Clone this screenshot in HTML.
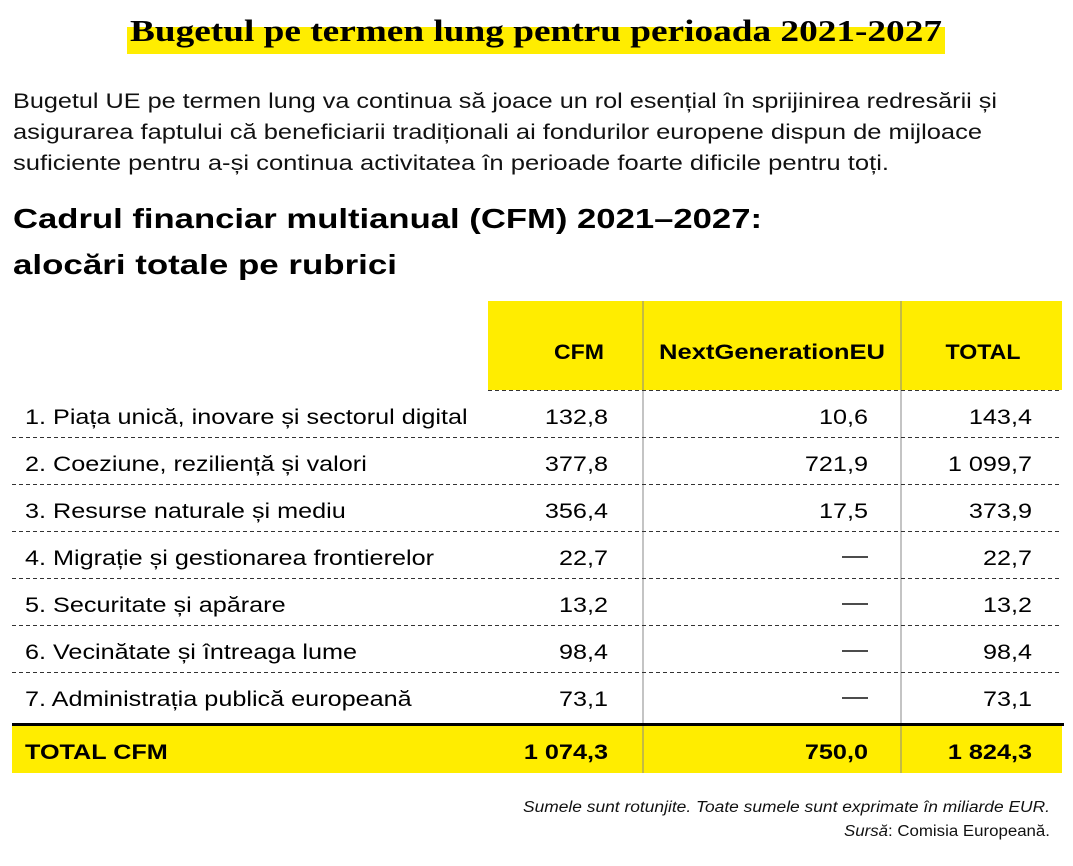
<!DOCTYPE html>
<html><head><meta charset="utf-8">
<style>
html,body{margin:0;padding:0;background:#fff;}
svg{display:block;font-family:"Liberation Sans",sans-serif;}
</style></head>
<body>
<svg id="chart" width="1073" height="866" viewBox="0 0 1073 866" xmlns="http://www.w3.org/2000/svg">
  <rect x="127" y="27" width="818" height="27" fill="#ffed00"/>
  <text x="130" y="41" font-family="Liberation Serif, serif" font-weight="bold" font-size="31" textLength="812" lengthAdjust="spacingAndGlyphs">Bugetul pe termen lung pentru perioada 2021-2027</text>
  <g font-size="21" fill="#111">
    <text x="13" y="108" textLength="984" lengthAdjust="spacingAndGlyphs">Bugetul UE pe termen lung va continua să joace un rol esențial în sprijinirea redresării și</text>
    <text x="13" y="139" textLength="969" lengthAdjust="spacingAndGlyphs">asigurarea faptului că beneficiarii tradiționali ai fondurilor europene dispun de mijloace</text>
    <text x="13" y="170" textLength="876" lengthAdjust="spacingAndGlyphs">suficiente pentru a-și continua activitatea în perioade foarte dificile pentru toți.</text>
  </g>
  <g font-size="28" font-weight="bold">
    <text x="13" y="228" textLength="749" lengthAdjust="spacingAndGlyphs">Cadrul financiar multianual (CFM) 2021–2027:</text>
    <text x="13" y="274" textLength="384" lengthAdjust="spacingAndGlyphs">alocări totale pe rubrici</text>
  </g>
  <rect x="488" y="301" width="574" height="89" fill="#ffed00"/>
  <g font-size="21" font-weight="bold">
    <text x="604" y="359" text-anchor="end" textLength="50" lengthAdjust="spacingAndGlyphs">CFM</text>
    <text x="772" y="359" text-anchor="middle" textLength="226" lengthAdjust="spacingAndGlyphs">NextGenerationEU</text>
    <text x="983" y="359" text-anchor="middle" textLength="75" lengthAdjust="spacingAndGlyphs">TOTAL</text>
  </g>
  <rect x="12" y="726" width="1050" height="47" fill="#ffed00"/>
  <g id="rows"></g>
  <g font-size="15.5" font-style="italic" text-anchor="end" fill="#111">
    <text x="1050" y="812" textLength="527" lengthAdjust="spacingAndGlyphs">Sumele sunt rotunjite. Toate sumele sunt exprimate în miliarde EUR.</text>
    <text x="1050" y="836" textLength="206" lengthAdjust="spacingAndGlyphs"><tspan>Sursă</tspan><tspan font-style="normal">: Comisia Europeană.</tspan></text>
  </g>
</svg>
<script>
const categories = ["1. Piața unică, inovare și sectorul digital","2. Coeziune, reziliență și valori","3. Resurse naturale și mediu","4. Migrație și gestionarea frontierelor","5. Securitate și apărare","6. Vecinătate și întreaga lume","7. Administrația publică europeană"];
const cfmValues = [132.8, 377.8, 356.4, 22.7, 13.2, 98.4, 73.1];
const ngeuValues = [10.6, 721.9, 17.5, null, null, null, null];
const totalValues = [143.4, 1099.7, 373.9, 22.7, 13.2, 98.4, 73.1];
const totalLabel = "TOTAL CFM";
const grandTotals = [1074.3, 750.0, 1824.3];

const NS = "http://www.w3.org/2000/svg";
const g = document.getElementById('rows');
const rowTop = 390, rowH = 47;
const colRight = [608, 868, 1032];
const STRETCH = 1.2;
function fmt(v){
  if(v===null) return "—";
  const s = v.toFixed(1).replace('.', ',');
  const [i,d] = s.split(',');
  return i.replace(/\B(?=(\d{3})+(?!\d))/g, ' ') + ',' + d;
}
function txt(parent, x, y, s, opts){
  const t = document.createElementNS(NS,'text');
  t.setAttribute('x', x); t.setAttribute('y', y);
  t.setAttribute('font-size', 21);
  if(opts.anchor) t.setAttribute('text-anchor', opts.anchor);
  if(opts.bold) t.setAttribute('font-weight','bold');
  t.textContent = s;
  parent.appendChild(t);
  return t;
}
[643, 901].forEach(x=>{
  const l = document.createElementNS(NS,'line');
  
  
  l.setAttribute('x1',x); l.setAttribute('x2',x); l.setAttribute('y1',301); l.setAttribute('y2',773);
  l.setAttribute('stroke','#888'); l.setAttribute('stroke-width',1);
  g.appendChild(l);
});
categories.forEach((c,i)=>{
  const row = document.createElementNS(NS,'g');
  
  
  const y = rowTop + i*rowH;
  const base = y + 34;
  const ng = ngeuValues[i];
  txt(row, 25, base, c, {});
  txt(row, colRight[0], base, fmt(cfmValues[i]), {anchor:'end'});
  if(ng===null){
    const d = document.createElementNS(NS,'line');
    
    
    d.setAttribute('x1',842); d.setAttribute('x2',868); d.setAttribute('y1',base-8); d.setAttribute('y2',base-8);
    d.setAttribute('stroke','#111'); d.setAttribute('stroke-width',1.5);
    row.appendChild(d);
  } else txt(row, colRight[1], base, fmt(ng), {anchor:'end'});
  txt(row, colRight[2], base, fmt(totalValues[i]), {anchor:'end'});
  const l = document.createElementNS(NS,'line');
  
  
  const lx = i===0 ? 488 : 12;
  l.setAttribute('x1',lx); l.setAttribute('x2',1062); l.setAttribute('y1',y+0.5); l.setAttribute('y2',y+0.5);
  l.setAttribute('stroke','#333'); l.setAttribute('stroke-dasharray','4 3');
  row.appendChild(l);
  g.appendChild(row);
});
const thick = document.createElementNS(NS,'line');


thick.setAttribute('x1',12); thick.setAttribute('x2',1064); thick.setAttribute('y1',724.5); thick.setAttribute('y2',724.5);
thick.setAttribute('stroke','#000'); thick.setAttribute('stroke-width',3);
g.appendChild(thick);
const tr = document.createElementNS(NS,'g');


txt(tr, 25, 759, totalLabel, {bold:true});
grandTotals.forEach((v,k)=>txt(tr, colRight[k], 759, fmt(v), {anchor:'end', bold:true}));
g.appendChild(tr);
// stretch table text horizontally to match reference typeface width
g.querySelectorAll('text').forEach(t=>{
  const w = t.getComputedTextLength();
  if(w>0){ t.setAttribute('textLength', (w*STRETCH).toFixed(1)); t.setAttribute('lengthAdjust','spacingAndGlyphs'); }
});
</script>
</body></html>
